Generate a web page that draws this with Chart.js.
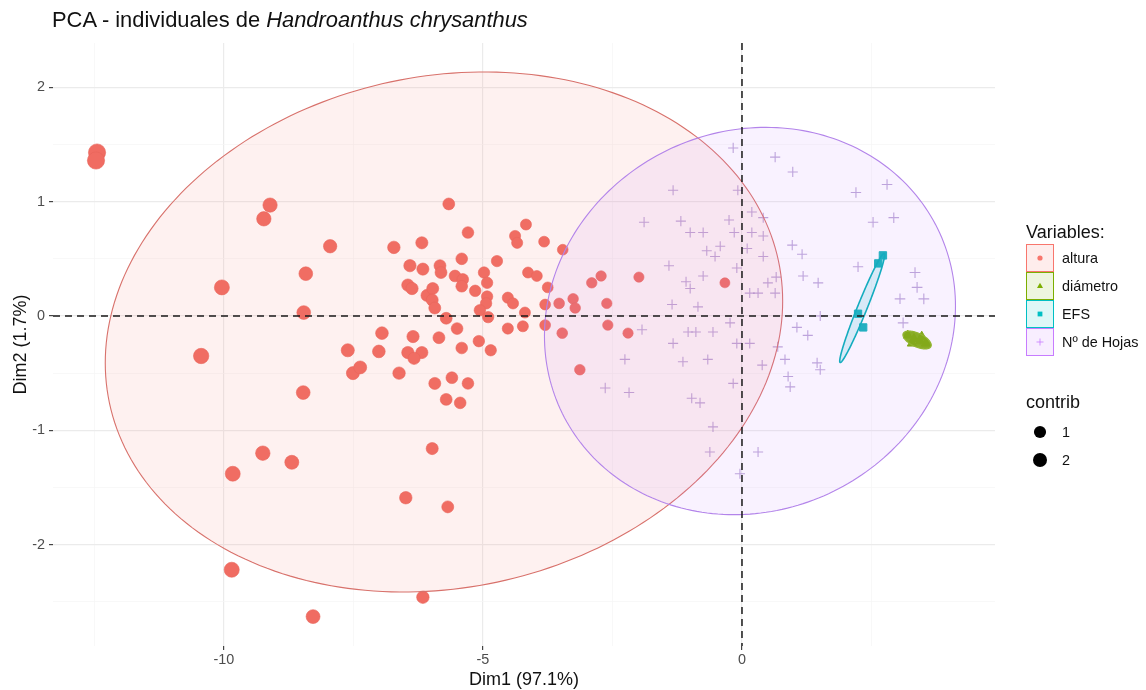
<!DOCTYPE html>
<html>
<head>
<meta charset="utf-8">
<script src="https://cdn.jsdelivr.net/npm/chart.js@4"></script>
<style>
  html, body { margin: 0; padding: 0; background: #fff; }
  #wrap { position: relative; width: 1146px; height: 690px; font-family: "Liberation Sans", Arial, sans-serif; }
  #pca { position: absolute; left: 0; top: 0; }
  #title { position: absolute; left: 52px; top: 8px; font-size: 21.9px; line-height: 24px; color: #111; white-space: nowrap; }
  .lg { position: absolute; left: 1026px; color: #111; }
  .lg-title { font-size: 18px; line-height: 20px; }
  .lg-row { position: absolute; left: 0; height: 28px; width: 140px; }
  .lg-row svg { position: absolute; left: 0; top: 0; }
  .lg-row span { position: absolute; left: 36px; top: 0; line-height: 28px; font-size: 14.4px; white-space: nowrap; }
</style>
</head>
<body>
<div id="wrap">
  <canvas id="pca" width="1146" height="690"></canvas>
  <div id="title">PCA - individuales de <i>Handroanthus chrysanthus</i></div>
  <div class="lg" id="lgVars" style="top:222px"></div>
  <div class="lg" id="lgContrib" style="top:392px"></div>
</div>
<script>
// ---------- individuals (Dim1, Dim2) per variable group ----------
const alturaX = [-12.45,-12.47,-9.11,-9.23,-10.04,-8.42,-8.46,-10.44,-8.47,-9.25,-8.69,-9.83,-9.85,-8.28,-6.16,-6.49,-5.68,-5.98,
  -5.66,-7.95,-6.72,-6.18,-5.29,-4.17,-4.38,-4.34,-3.82,
  -6.41,-6.16,-5.83,-5.81,-5.41,-4.73,-5.54,-5.39,-5.41,-4.98,-4.92,-5.15,-4.13,-3.96,-3.75,
  -6.45,-6.37,-6.08,-5.97,-5.98,-5.93,-4.92,-4.94,-4.52,-4.42,-5.06,-4.90,-4.19,-3.80,-3.53,-3.26,-3.22,-2.90,-2.72,-2.61,-1.99,-3.46,
  -5.71,-4.52,-4.23,-3.80,-3.47,-2.59,-2.20,-3.13,
  -6.95,-6.35,-5.85,-5.50,-5.08,-7.61,-7.01,-6.45,-6.18,-6.33,-5.41,-4.85,-7.51,-7.37,-6.62,-5.93,-5.60,-5.29,-5.71,-5.44,
  -0.33];
const alturaY = [1.43,1.36,0.97,0.85,0.25,0.37,0.03,-0.35,-0.67,-1.20,-1.28,-1.38,-2.22,-2.63,-2.46,-1.59,-1.67,-1.16,
  0.98,0.61,0.60,0.64,0.73,0.80,0.70,0.64,0.65,
  0.44,0.41,0.44,0.38,0.50,0.48,0.35,0.32,0.26,0.38,0.29,0.22,0.38,0.35,0.25,
  0.27,0.24,0.18,0.24,0.14,0.07,0.17,0.11,0.16,0.11,0.05,-0.01,0.03,0.10,0.11,0.15,0.07,0.29,0.35,0.11,0.34,0.58,
  -0.02,-0.11,-0.09,-0.08,-0.15,-0.08,-0.15,-0.47,
  -0.15,-0.18,-0.19,-0.11,-0.22,-0.30,-0.31,-0.32,-0.32,-0.37,-0.28,-0.30,-0.50,-0.45,-0.50,-0.59,-0.54,-0.59,-0.73,-0.76,
  0.29];

const diametroX = [3.20, 3.32, 3.44, 3.55, 3.28, 3.47];
const diametroY = [-0.17, -0.20, -0.22, -0.24, -0.24, -0.18];

const efsX = [2.72, 2.63, 2.24, 2.34];
const efsY = [0.53, 0.46, 0.02, -0.10];

const hojasX = [-0.17,0.64,0.98,2.20,2.80,-1.33,-0.08,-1.89,-1.18,-0.25,-1.00,-0.75,-0.15,0.19,0.41,0.19,0.41,2.53,2.93,
  -0.68,-0.52,-0.42,0.10,0.41,0.97,1.16,-1.41,-1.08,-1.00,-0.75,-0.10,0.50,0.66,1.18,1.47,0.15,0.31,0.64,2.24,
  3.34,3.38,3.05,3.51,-1.35,-0.85,1.51,3.11,1.06,1.27,-1.93,-1.04,-0.89,-0.56,-0.23,-1.33,-0.10,0.15,0.69,0.83,
  1.45,1.51,0.89,0.93,0.39,-2.26,-1.14,-0.66,-2.64,-2.18,-0.97,-0.81,-0.17,-0.56,-0.62,0.31,-0.04];
const hojasY = [1.47,1.39,1.26,1.08,1.15,1.10,1.10,0.82,0.83,0.84,0.73,0.73,0.73,0.91,0.86,0.73,0.70,0.82,0.86,
  0.57,0.52,0.61,0.59,0.52,0.62,0.54,0.44,0.30,0.24,0.35,0.42,0.29,0.34,0.35,0.29,0.20,0.20,0.20,0.43,
  0.38,0.25,0.15,0.15,0.10,0.08,0.00,-0.06,-0.10,-0.17,-0.12,-0.14,-0.14,-0.14,-0.06,-0.24,-0.24,-0.24,-0.27,-0.38,
  -0.41,-0.47,-0.53,-0.62,-0.43,-0.38,-0.40,-0.38,-0.63,-0.67,-0.72,-0.76,-0.59,-0.97,-1.19,-1.19,-1.38];

// ---------- groups ----------
const groupNames  = ['altura', 'diámetro', 'EFS', 'Nº de Hojas'];
const groupColors = ['#F8766D', '#7CAE00', '#00BFC4', '#C77CFF'];

// concentration ellipses: centre plus two conjugate half-diameters (Dim1, Dim2 units)
const ellipseCx = [-5.753, 3.38, 2.32, 0.154];
const ellipseCy = [-0.140, -0.21, 0.07, -0.044];
const ellipseUx = [6.457, 0.27, 0.425, 3.967];
const ellipseUy = [0.622, -0.035, 0.477, 0.131];
const ellipseVx = [-1.027, -0.04, 0.085, 0.0];
const ellipseVy = [2.188, 0.07, -0.016, 1.689];

// ---------- axes ----------
const xTickValues = [-12.5, -10, -7.5, -5, -2.5, 0, 2.5];
const yTickValues = [-2.5, -2, -1.5, -1, -0.5, 0, 0.5, 1, 1.5, 2];
const xLabel = 'Dim1 (97.1%)';
const yLabel = 'Dim2 (1.7%)';
const contribLegendValues = [1, 2];

// ---------- contribution → marker size ----------
const allX = [...alturaX, ...diametroX, ...efsX, ...hojasX];
const allY = [...alturaY, ...diametroY, ...efsY, ...hojasY];
const totalInertia = allX.reduce((s, v, i) => s + v * v + allY[i] * allY[i], 0);
const contribOf = (x, y) => 100 * (x * x + y * y) / totalInertia;
const sizeFor = c => Math.sqrt(25 + 12 * c);
const pointSize = ctx => ctx.raw ? sizeFor(contribOf(ctx.raw.x, ctx.raw.y)) : 5;

const toPts = (xs, ys) => xs.map((v, i) => ({ x: v, y: ys[i] }));

function rgba(hex, a) {
  const n = parseInt(hex.slice(1), 16);
  return `rgba(${(n >> 16) & 255},${(n >> 8) & 255},${n & 255},${a})`;
}

// ellipses and the dashed origin lines, drawn over the points
const overlay = {
  id: 'overlay',
  afterDatasetsDraw(chart) {
    const { ctx, chartArea: a, scales: { x, y } } = chart;
    ctx.save();
    ctx.beginPath();
    ctx.rect(a.left, a.top, a.right - a.left, a.bottom - a.top);
    ctx.clip();
    const fills = [rgba(groupColors[0], 0.1), rgba(groupColors[1], 0.95), rgba(groupColors[2], 0.15), rgba(groupColors[3], 0.1)];
    const edges = ['#D8716B', '#8DBB1A', '#00B2B8', '#B384EA'];
    const widths = [1.1, 1.2, 1.6, 1.1];
    for (let g = 0; g < groupNames.length; g++) {
      ctx.beginPath();
      for (let k = 0; k <= 240; k++) {
        const t = k / 240 * Math.PI * 2;
        const dx = ellipseCx[g] + ellipseUx[g] * Math.cos(t) + ellipseVx[g] * Math.sin(t);
        const dy = ellipseCy[g] + ellipseUy[g] * Math.cos(t) + ellipseVy[g] * Math.sin(t);
        const px = x.getPixelForValue(dx), py = y.getPixelForValue(dy);
        if (k === 0) ctx.moveTo(px, py); else ctx.lineTo(px, py);
      }
      ctx.closePath();
      ctx.fillStyle = fills[g];
      ctx.fill();
      ctx.strokeStyle = edges[g];
      ctx.lineWidth = widths[g];
      ctx.stroke();
    }
    ctx.setLineDash([7, 5]);
    ctx.strokeStyle = '#1a1a1a';
    ctx.lineWidth = 1.5;
    const x0 = x.getPixelForValue(0), y0 = y.getPixelForValue(0);
    ctx.beginPath();
    ctx.moveTo(a.left, y0); ctx.lineTo(a.right, y0);
    ctx.moveTo(x0, a.top); ctx.lineTo(x0, a.bottom);
    ctx.stroke();
    ctx.restore();
  }
};

const isMajorX = v => Math.abs(v % 5) < 1e-9;
const isMajorY = v => Math.abs(v % 1) < 1e-9;
const FONT = '"Liberation Sans", Arial, sans-serif';

new Chart(document.getElementById('pca'), {
  type: 'scatter',
  data: {
    datasets: [
      { label: groupNames[0], data: toPts(alturaX, alturaY), pointStyle: 'circle',
        backgroundColor: '#F06C62', borderColor: '#E8645A', borderWidth: 0.6, pointRadius: pointSize, order: 1 },
      { label: groupNames[1], data: toPts(diametroX, diametroY), pointStyle: 'triangle',
        backgroundColor: groupColors[1], borderColor: groupColors[1], borderWidth: 1, pointRadius: pointSize, order: 2 },
      { label: groupNames[2], data: toPts(efsX, efsY), pointStyle: 'rect',
        backgroundColor: '#12B5BA', borderColor: '#12B5BA', borderWidth: 1, pointRadius: pointSize, order: 3 },
      { label: groupNames[3], data: toPts(hojasX, hojasY), pointStyle: 'cross',
        backgroundColor: 'rgba(0,0,0,0)', borderColor: 'rgba(160,130,200,0.7)', borderWidth: 1.1, pointRadius: pointSize, order: 4 }
    ]
  },
  options: {
    responsive: false,
    animation: false,
    devicePixelRatio: 1,
    layout: { padding: { left: 0, right: 151, top: 43, bottom: 0 } },
    plugins: { legend: { display: false }, tooltip: { enabled: false }, title: { display: false } },
    elements: { point: { hoverRadius: 0 } },
    scales: {
      x: {
        type: 'linear', min: -13.3, max: 4.884,
        afterBuildTicks: s => { s.ticks = xTickValues.map(v => ({ value: v })); },
        afterFit: s => { s.height = 44; },
        border: { display: false },
        grid: {
          color: c => isMajorX(c.tick.value) ? '#EBEBEB' : '#F5F5F5',
          lineWidth: c => isMajorX(c.tick.value) ? 1.2 : 0.7,
          tickColor: c => isMajorX(c.tick.value) ? '#444' : 'rgba(0,0,0,0)',
          tickLength: 4, drawTicks: true
        },
        ticks: {
          autoSkip: false, maxRotation: 0, padding: 1, color: '#4D4D4D',
          font: { family: FONT, size: 14.4 },
          callback: v => isMajorX(v) ? String(v) : ''
        },
        title: { display: true, text: xLabel, color: '#111',
          font: { family: FONT, size: 18, lineHeight: 1 }, padding: { top: 0, bottom: 1 } }
      },
      y: {
        type: 'linear', min: -2.887, max: 2.388,
        afterBuildTicks: s => { s.ticks = yTickValues.map(v => ({ value: v })); },
        afterFit: s => { s.width = 53; },
        border: { display: false },
        grid: {
          color: c => isMajorY(c.tick.value) ? '#EBEBEB' : '#F5F5F5',
          lineWidth: c => isMajorY(c.tick.value) ? 1.2 : 0.7,
          tickColor: c => isMajorY(c.tick.value) ? '#444' : 'rgba(0,0,0,0)',
          tickLength: 4, drawTicks: true
        },
        ticks: {
          autoSkip: false, padding: 4, color: '#4D4D4D',
          font: { family: FONT, size: 14.4 },
          callback: v => isMajorY(v) ? String(v) : ''
        },
        title: { display: true, text: yLabel, color: '#111',
          font: { family: FONT, size: 18 }, padding: { top: 10, bottom: 0 } }
      }
    }
  },
  plugins: [overlay]
});

// ---------- legends ----------
function keySymbol(g) {
  const c = groupColors[g];
  if (g === 0) return `<circle cx="14" cy="14" r="2.6" fill="${c}"/>`;
  if (g === 1) return `<path d="M14 10.8 L17 16 L11 16 Z" fill="${c}"/>`;
  if (g === 2) return `<rect x="11.6" y="11.6" width="4.8" height="4.8" fill="${c}"/>`;
  return `<path d="M10.5 14 H17.5 M14 10.5 V17.5" stroke="${rgba(c, 0.8)}" stroke-width="1"/>`;
}
const vars = document.getElementById('lgVars');
let html = '<div class="lg-title">Variables:</div>';
groupNames.forEach((name, g) => {
  html += `<div class="lg-row" style="top:${22 + g * 28}px">` +
    `<svg width="28" height="28"><rect x="0.5" y="0.5" width="27" height="27" fill="${rgba(groupColors[g], 0.13)}" stroke="${groupColors[g]}" stroke-width="1"/>` +
    keySymbol(g) + `</svg><span>${name}</span></div>`;
});
vars.innerHTML = html;

const contribBox = document.getElementById('lgContrib');
let html2 = '<div class="lg-title">contrib</div>';
contribLegendValues.forEach((v, i) => {
  html2 += `<div class="lg-row" style="top:${26 + i * 28}px">` +
    `<svg width="28" height="28"><circle cx="14" cy="14" r="${sizeFor(v).toFixed(2)}" fill="#000"/></svg>` +
    `<span>${v}</span></div>`;
});
contribBox.innerHTML = html2;
</script>
</body>
</html>
